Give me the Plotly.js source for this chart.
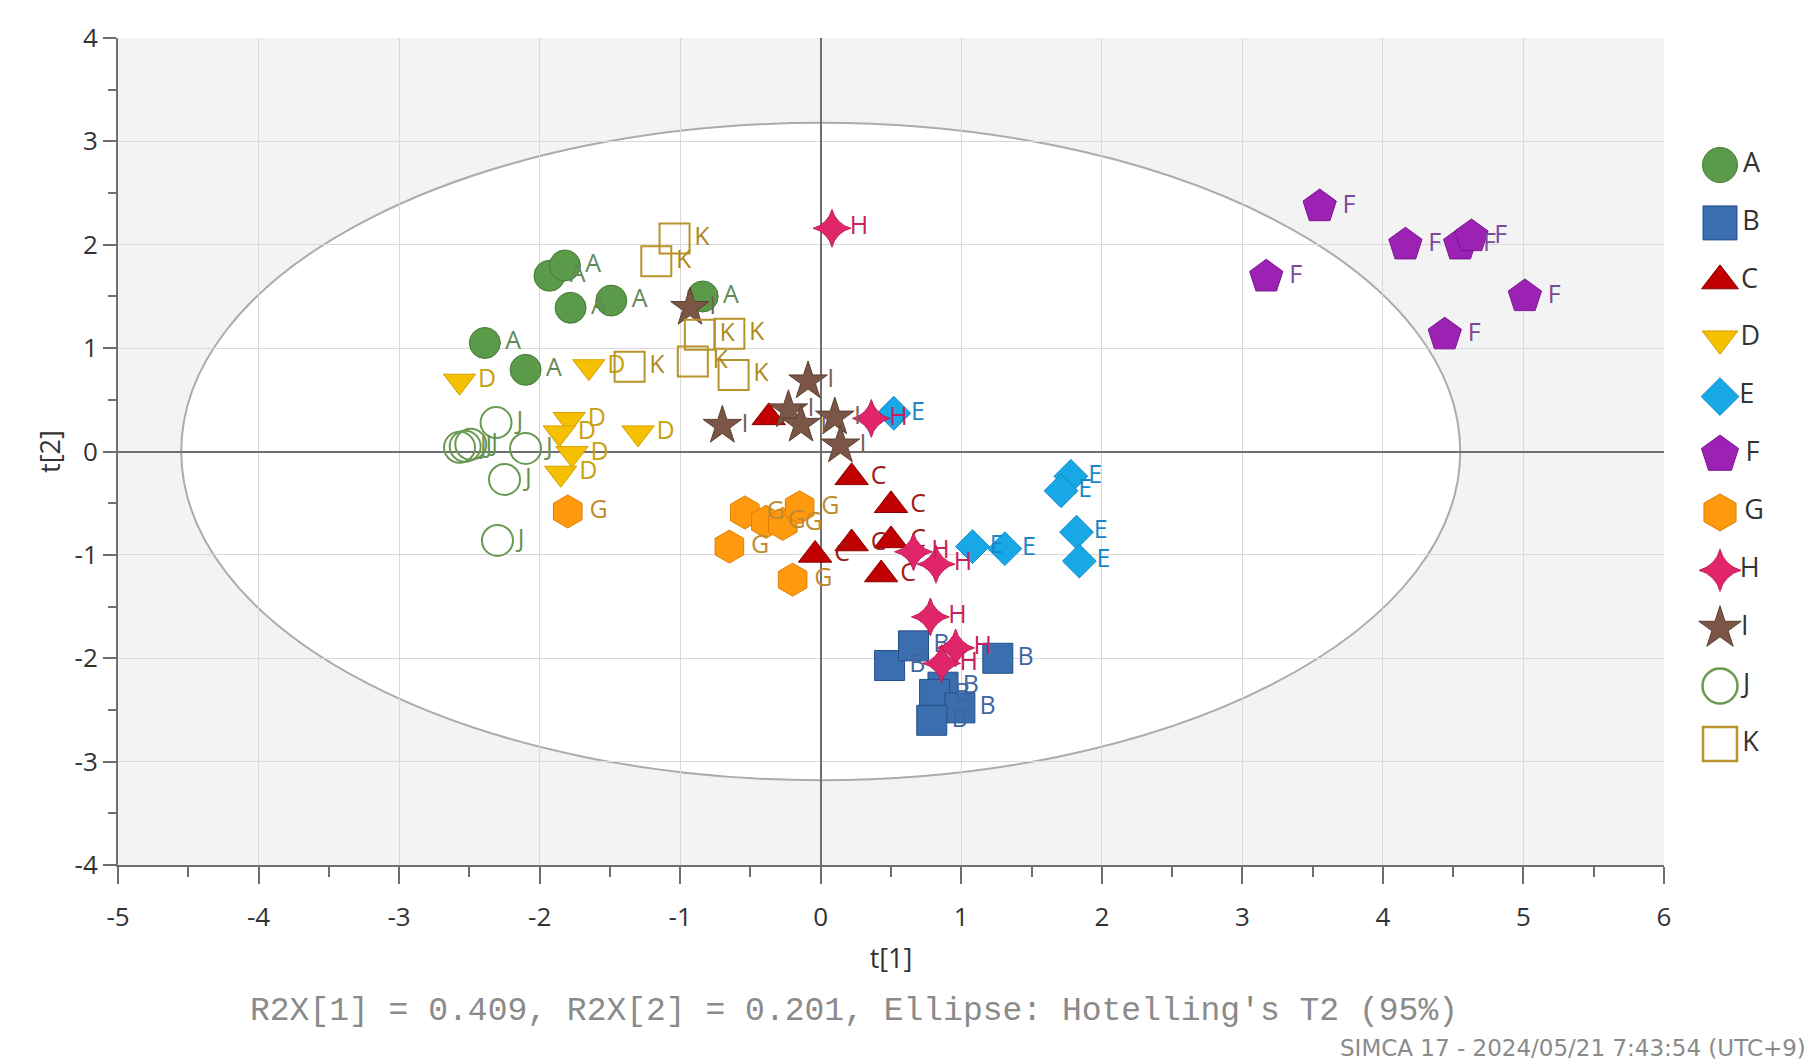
<!DOCTYPE html>
<html><head><meta charset="utf-8">
<script src="https://cdn.plot.ly/plotly-3.0.1.min.js"></script>
<style>html,body{margin:0;padding:0;background:#fff}#chart{width:1816px;height:1064px}</style>
</head><body><div id="chart"></div>
<script>
// ---- data (scores t[1], t[2]) ----
const groupNames = ['A','B','C','D','E','F','G','H','I','J','K'];
const tA = [-1.93,-1.82,-1.78,-1.49,-0.84,-2.39,-2.10];
const uA = [1.70,1.80,1.39,1.46,1.50,1.05,0.79];
const tB = [0.49,0.66,1.26,0.87,0.81,0.99,0.79];
const uB = [-2.07,-1.88,-2.00,-2.28,-2.35,-2.48,-2.60];
const tC = [-0.37,0.22,0.50,0.22,0.50,-0.04,0.43];
const uC = [0.33,-0.25,-0.52,-0.89,-0.86,-1.00,-1.19];
const tD = [-2.57,-1.65,-1.79,-1.86,-1.77,-1.85,-1.30];
const uD = [0.68,0.82,0.31,0.18,-0.02,-0.21,0.18];
const tE = [0.52,1.08,1.31,1.78,1.71,1.82,1.84];
const uE = [0.37,-0.92,-0.94,-0.24,-0.38,-0.78,-1.06];
const tF = [3.55,4.16,4.55,4.63,5.01,3.17,4.44];
const uF = [2.37,2.00,2.00,2.08,1.50,1.69,1.13];
const tG = [-1.80,-0.54,-0.39,-0.27,-0.15,-0.65,-0.20];
const uG = [-0.58,-0.59,-0.68,-0.70,-0.54,-0.92,-1.24];
const tH = [0.08,0.36,0.66,0.82,0.78,0.96,0.86];
const uH = [2.16,0.32,-0.97,-1.09,-1.60,-1.90,-2.05];
const tI = [-0.93,-0.09,-0.70,-0.23,-0.14,0.10,0.14];
const uI = [1.39,0.68,0.25,0.40,0.26,0.33,0.06];
const tJ = [-2.31,-2.53,-2.49,-2.10,-2.25,-2.30,-2.57];
const uJ = [0.28,0.05,0.07,0.03,-0.27,-0.86,0.04];
const tK = [-1.04,-1.17,-0.86,-0.65,-1.36,-0.91,-0.62];
const uK = [2.06,1.84,1.13,1.14,0.82,0.87,0.74];
const xTicks = [-5,-4,-3,-2,-1,0,1,2,3,4,5,6];
const yTicks = [-4,-3,-2,-1,0,1,2,3,4];
const ellipseT1 = 4.55;   // Hotelling T2 95% semi-axes
const ellipseT2 = 3.18;
const r2xText = "R2X[1] = 0.409, R2X[2] = 0.201, Ellipse: Hotelling's T2 (95%)";
const footerText = "SIMCA 17 - 2024/05/21 7:43:54 (UTC+9)";

// ---- styles ----
const xs = [tA,tB,tC,tD,tE,tF,tG,tH,tI,tJ,tK];
const ys = [uA,uB,uC,uD,uE,uF,uG,uH,uI,uJ,uK];
const styles = [
  {sym:'circle', size:31, fill:'#5b9a49', line:'#447a35', txt:'#5f8a55'},
  {sym:'square', size:30, fill:'#3a6eaf', line:'#23508a', txt:'#3f66a0'},
  {sym:'triangle-up', size:29, fill:'#c00000', line:'#8b0000', txt:'#a01818'},
  {sym:'triangle-down', size:28, fill:'#f5c000', line:'#d4a000', txt:'#c8a010'},
  {sym:'diamond', size:26, fill:'#18a8e6', line:'#0e8cc8', txt:'#1a86c8'},
  {sym:'pentagon', size:35, fill:'#9c22b4', line:'#7b1591', txt:'#7a4a9a'},
  {sym:'hexagon', size:33, fill:'#ff9a0e', line:'#e07e00', txt:'#c08a30'},
  {sym:'star-diamond', size:27, fill:'#e0256a', line:'#c01850', txt:'#c8205a'},
  {sym:'star', size:29, fill:'#7b5545', line:'#5e3f33', txt:'#7a6258'},
  {sym:'circle-open', size:31, fill:'#6a9a52', line:'#6a9a52', txt:'#6a9050'},
  {sym:'square-open', size:30, fill:'#b8922a', line:'#b8922a', txt:'#b08a20'}
];
const isOpen = s => s.sym.endsWith('-open');

const traces = [];
groupNames.forEach((g, i) => {
  const s = styles[i];
  traces.push({
    type:'scatter', mode:'markers+text', name:g, showlegend:false,
    x: xs[i], y: ys[i], text: xs[i].map(() => g),
    textposition:'middle right',
    textfont:{family:'Open Sans, sans-serif', size:25, color:s.txt},
    marker:{symbol:s.sym, size:s.size, color:s.fill, opacity:1,
            line:{color:s.line, width: isOpen(s) ? 2 : 1}},
    hoverinfo:'x+y+name', cliponaxis:false
  });
});

// legend drawn as a key column on its own axes (index of each group)
traces.push({
  type:'scatter', mode:'markers+text', showlegend:false, xaxis:'x2', yaxis:'y2',
  x: groupNames.map(() => 0), y: groupNames.map((g, i) => i),
  text: groupNames, textposition:'middle right',
  textfont:{family:'Open Sans, sans-serif', size:27, color:'#333'},
  marker:{symbol:styles.map(s => s.sym), size:styles.map(s => Math.round(s.size*1.12)),
          color:styles.map(s => s.fill), opacity:1,
          line:{color:styles.map(s => s.line), width:styles.map(s => isOpen(s) ? 2.5 : 1)}},
  hoverinfo:'text', cliponaxis:false
});

// pixel helpers for paper coords
const W = 1816, H = 1064, mL = 118, mR = 0, mT = 38, mB = 199;
const plotRight = 1664;
const pw = W - mL - mR, ph = H - mT - mB;
const px = v => (v - mL) / pw;
const py = v => (H - mB - v) / ph;

const axisCommon = {
  showgrid:true, gridcolor:'#d9d9d9', gridwidth:1,
  zeroline:true, zerolinecolor:'#6e6e6e', zerolinewidth:2,
  showline:true, linecolor:'#6e6e6e', linewidth:2,
  ticks:'outside', tickcolor:'#6e6e6e', tickwidth:2,
  tickfont:{family:'Open Sans, sans-serif', size:26, color:'#333'},
  fixedrange:true
};

// key rows: first at y=165px, step 57.9px
const keyStep = 57.9, keyTop = 165;
const keyLo = (H - mB - keyTop) / keyStep;
const keyHi = (keyTop - mT) / keyStep;

const xRange = [xTicks[0], xTicks[xTicks.length-1]];
const yRange = [yTicks[0], yTicks[yTicks.length-1]];

const layout = {
  width:W, height:H,
  margin:{l:mL, r:mR, t:mT, b:mB},
  paper_bgcolor:'#ffffff', plot_bgcolor:'#ffffff',
  font:{family:'Open Sans, sans-serif', color:'#333'},
  showlegend:false, hovermode:'closest',
  xaxis: Object.assign({}, axisCommon, {
    domain:[0, px(plotRight)],
    range:xRange,
    tickvals:xTicks, ticktext:xTicks.map(String), ticklen:17, ticklabelstandoff:11,
    minor:{dtick:0.5, tick0:0, ticks:'outside', ticklen:10, tickcolor:'#6e6e6e', tickwidth:2, showgrid:false},
    title:{text:'t[1]', font:{family:'Open Sans, sans-serif', size:27, color:'#333'}, standoff:16}
  }),
  yaxis: Object.assign({}, axisCommon, {
    range:yRange,
    tickvals:yTicks, ticktext:yTicks.map(String), ticklen:13,
    minor:{dtick:0.5, tick0:0, ticks:'outside', ticklen:8, tickcolor:'#6e6e6e', tickwidth:2, showgrid:false},
    title:{text:'t[2]', font:{family:'Open Sans, sans-serif', size:27, color:'#333'}, standoff:6}
  }),
  xaxis2:{domain:[px(1688), 1], range:[-0.25, 0.75], visible:false, fixedrange:true, anchor:'y2'},
  yaxis2:{domain:[0, 1], range:[keyLo, -keyHi], visible:false, fixedrange:true, anchor:'x2'},
  shapes:[
    {type:'rect', xref:'x', yref:'y', layer:'below',
     x0:xRange[0], x1:xRange[1], y0:yRange[0], y1:yRange[1],
     fillcolor:'#f3f3f3', line:{width:0}},
    {type:'circle', xref:'x', yref:'y', layer:'below',
     x0:-ellipseT1, x1:ellipseT1, y0:-ellipseT2, y1:ellipseT2,
     fillcolor:'#ffffff', line:{color:'#ababab', width:2}}
  ],
  annotations:[
    {xref:'paper', yref:'paper', x:px(854), y:py(1011), xanchor:'center', yanchor:'middle',
     showarrow:false, text:r2xText,
     font:{family:'Liberation Mono, DejaVu Sans Mono, monospace', size:33, color:'#8a8a8a'}},
    {xref:'paper', yref:'paper', x:px(1808), y:py(1048), xanchor:'right', yanchor:'middle',
     showarrow:false, text:footerText,
     font:{family:'DejaVu Sans, sans-serif', size:23, color:'#8a8a8a'}}
  ]
};

Plotly.newPlot('chart', traces, layout, {displayModeBar:false});
</script>
</body></html>
